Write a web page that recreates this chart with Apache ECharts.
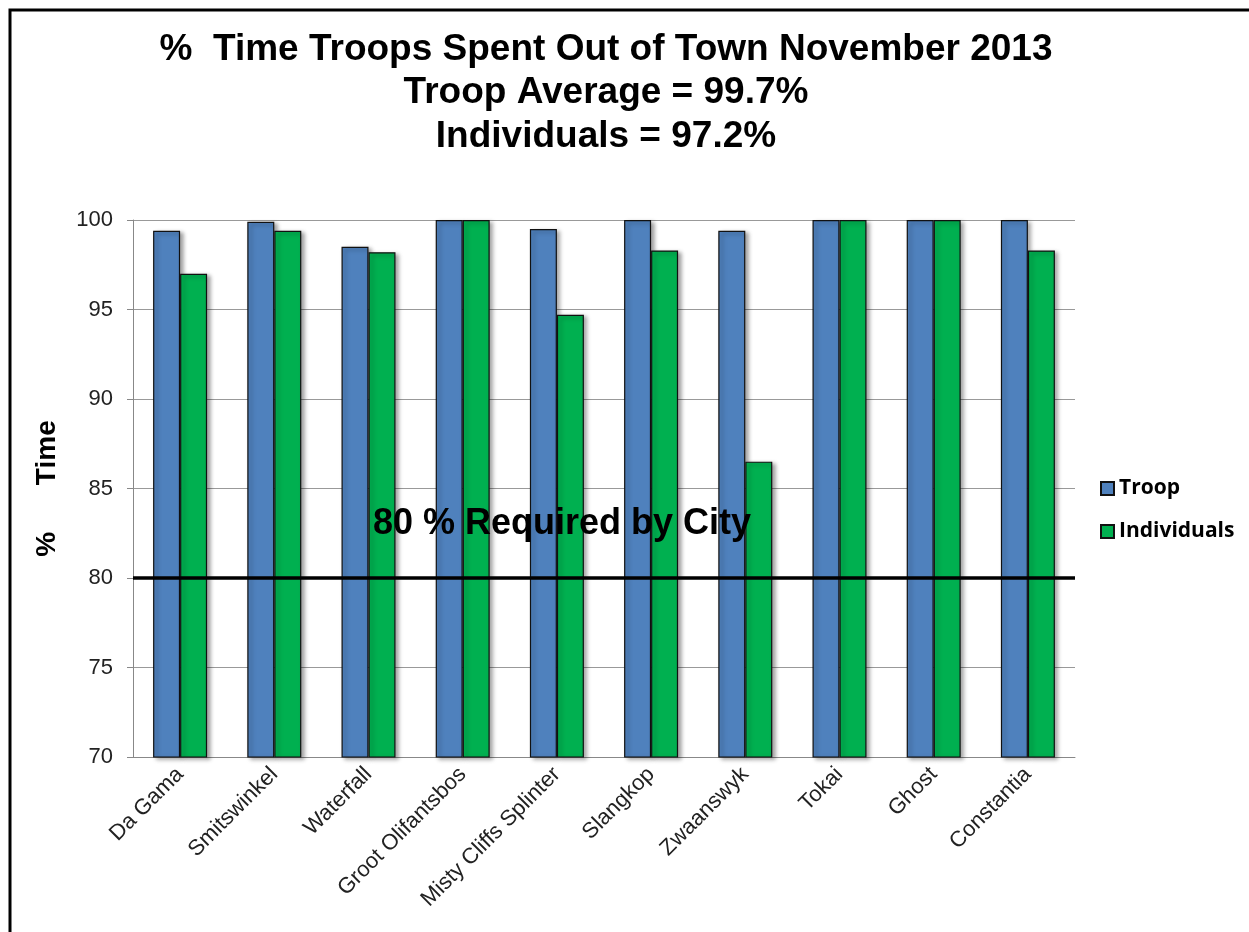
<!DOCTYPE html>
<html>
<head>
<meta charset="utf-8">
<script src="https://cdn.jsdelivr.net/npm/echarts@6/dist/echarts.min.js"></script>
<style>
html,body{margin:0;padding:0;background:#fff;}
#chart{width:1249px;height:932px;}
</style>
</head>
<body>
<div id="chart"></div>
<script>
const categories = ['Da Gama','Smitswinkel','Waterfall','Groot Olifantsbos','Misty Cliffs Splinter','Slangkop','Zwaanswyk','Tokai','Ghost','Constantia'];
const troopValues = [99.4, 99.9, 98.5, 100, 99.5, 100, 99.4, 100, 100, 100];
const individualValues = [97.0, 99.4, 98.2, 100, 94.7, 98.3, 86.5, 100, 100, 98.3];
const yTicks = [70, 75, 80, 85, 90, 95, 100];
const requiredLevel = 80;
const requiredLabel = '80 % Required by City';
const titleLines = ['%  Time Troops Spent Out of Town November 2013', 'Troop Average = 99.7%', 'Individuals = 97.2%'];

const chart = echarts.init(document.getElementById('chart'));
const shadow = {shadowBlur: 4, shadowOffsetX: 3, shadowOffsetY: 2, shadowColor: 'rgba(0,0,0,0.35)'};
chart.setOption({
  animation: false,
  backgroundColor: '#fff',
  title: {
    text: titleLines.join('\n'),
    left: 601, top: 23, textAlign: 'center',
    textStyle: {fontFamily: 'Liberation Sans, Arial', fontWeight: 'bold', fontSize: 37, lineHeight: 43.5, color: '#000'}
  },
  graphic: [{
    type: 'rect', shape: {x: 10, y: 10, width: 1260, height: 940},
    style: {fill: 'none', stroke: '#000', lineWidth: 3}, silent: true
  }],
  legend: {
    orient: 'vertical', left: 1100, top: 478, itemGap: 22, padding: 0,
    itemWidth: 13, itemHeight: 13, icon: 'rect',
    textStyle: {fontFamily: 'Open Sans, Liberation Sans', fontWeight: 'bold', fontSize: 21, color: '#000'}
  },
  grid: {left: 133, right: 174, top: 220, bottom: 175},
  xAxis: {
    type: 'category', data: categories,
    axisLine: {lineStyle: {color: '#888', width: 1}},
    axisTick: {show: false},
    axisLabel: {rotate: 45, margin: 14, interval: 0, fontFamily: 'Liberation Sans, Arial', fontSize: 22, color: '#222'}
  },
  yAxis: {
    type: 'value', min: yTicks[0], max: yTicks[yTicks.length - 1], interval: 5,
    name: '%      Time', nameLocation: 'middle', nameGap: 72, nameRotate: 90,
    nameTextStyle: {fontFamily: 'Liberation Sans, Arial', fontWeight: 'bold', fontSize: 28, color: '#000'},
    axisLine: {show: true, lineStyle: {color: '#888'}},
    axisTick: {show: true, length: 6, lineStyle: {color: '#888'}},
    splitLine: {lineStyle: {color: '#999', width: 1}},
    axisLabel: {margin: 20, fontFamily: 'Liberation Sans, Arial', fontSize: 22, color: '#222'}
  },
  series: [{
    name: 'Troop', type: 'bar', data: troopValues, barWidth: 27, barGap: '0%',
    itemStyle: Object.assign({color: '#4F81BD', borderColor: '#111', borderWidth: 1.2}, shadow),
    markLine: {
      silent: true, symbol: 'none', z: 10,
      lineStyle: {color: '#000', width: 3.5, type: 'solid'},
      label: {
        show: true, position: 'insideStartTop', formatter: requiredLabel,
        distance: [240, 36],
        fontFamily: 'Liberation Sans, Arial', fontWeight: 'bold', fontSize: 36, color: '#000'
      },
      data: [{yAxis: requiredLevel}]
    }
  }, {
    name: 'Individuals', type: 'bar', data: individualValues, barWidth: 27,
    itemStyle: Object.assign({color: '#00B050', borderColor: '#111', borderWidth: 1.2}, shadow)
  }]
});
</script>
</body>
</html>
